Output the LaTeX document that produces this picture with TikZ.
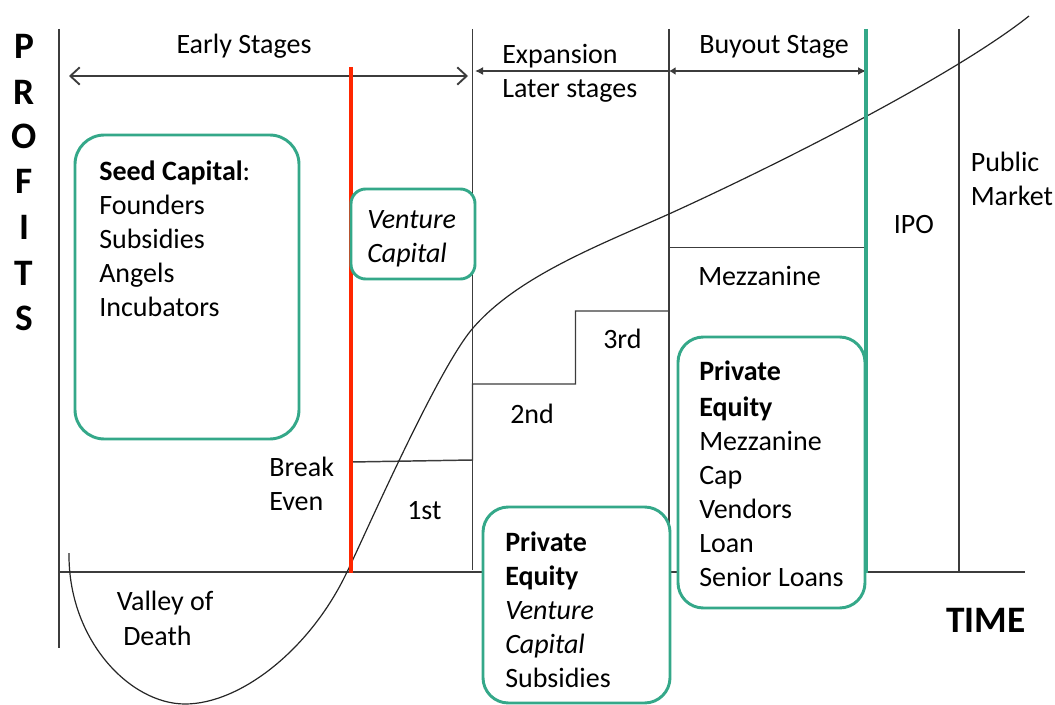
\documentclass[tikz,border=0pt]{standalone}
\usepackage{fontspec}
\setmainfont{Carlito}
\usetikzlibrary{arrows.meta}
\definecolor{pegreen}{RGB}{52,168,137}
\definecolor{bered}{RGB}{255,38,0}
\definecolor{ln}{RGB}{60,60,60}
\begin{document}
\begin{tikzpicture}[x=0.75pt,y=-0.75pt,
  txt/.style={inner sep=0pt, font=\fontsize{21}{25}\selectfont, anchor=base west},
  bigtxt/.style={inner sep=0pt, font=\fontsize{28}{30}\selectfont\bfseries, anchor=base},
  gbox/.style={draw=pegreen, line width=2.2pt, fill=white},
  gline/.style={draw=ln, line width=1.1pt},
  curve/.style={draw=black!85, line width=0.9pt},
  bigarrow/.style={draw=ln, line width=1.5pt, {Straight Barb[length=7pt,width=13pt,line width=1.4pt]}-{Straight Barb[length=7pt,width=13pt,line width=1.4pt]}},
  smallarrow/.style={draw=ln, line width=1.1pt}
]
\useasboundingbox (0,0) rectangle (1055,705);

% coordinates
\coordinate (axtop) at (59,29);
\coordinate (axbot) at (59,648);
\coordinate (hxl) at (59,572);
\coordinate (hxr) at (1025,572);
\coordinate (redt) at (350.5,67);
\coordinate (redb) at (350.5,573);
\coordinate (v1t) at (472.5,29);
\coordinate (v1b) at (472.5,570);
\coordinate (v2t) at (669,29);
\coordinate (v2b) at (669,570);
\coordinate (grt) at (866,29);
\coordinate (grb) at (866,573);
\coordinate (v3t) at (959,29);
\coordinate (v3b) at (959,572);

% axes and stage lines
\draw[gline] (axtop) -- (axbot);
\draw[gline] (hxl) -- (hxr);
\draw[gline] (v1t) -- (v1b);
\draw[gline] (v2t) -- (v2b);
\draw[gline] (v3t) -- (v3b);

% steps
\coordinate (s0) at (351,462);
\coordinate (s1) at (472.5,460);
\coordinate (s2) at (472.5,384);
\coordinate (s3) at (575.5,384);
\coordinate (s4) at (575.5,311);
\coordinate (s5) at (669,311);
\draw[gline] (s0) -- (s1) -- (s2) -- (s3) -- (s4) -- (s5);
\coordinate (mz0) at (669,247.5);
\coordinate (mz1) at (866,247.5);
\draw[gline] (mz0) -- (mz1);

% stage arrows
\coordinate (ea0) at (69,76);
\coordinate (ea1) at (468,76);
\draw[bigarrow] (ea0) -- (ea1);
\coordinate (xa0) at (475,71);
\coordinate (xa1) at (669,71);
\draw[smallarrow, {Latex[length=6pt,width=6pt]}-] (xa0) -- (xa1);
\coordinate (ba1) at (866,71);
\draw[smallarrow, {Latex[length=5pt,width=6pt]}-{Latex[length=6pt,width=6pt]}] (xa1) -- (ba1);

% curve
\coordinate (c0) at (69,553);
\coordinate (c1) at (185,704);
\coordinate (c2) at (347,572);
\coordinate (c3) at (473,328);
\coordinate (c4) at (669,214);
\coordinate (c5) at (1029,16);
\draw[curve] (c0) .. controls (68,640) and (130,704) .. (c1)
  .. controls (240,704) and (310,650) .. (c2)
  .. controls (365,535) and (438,368) .. (c3)
  .. controls (518,276) and (600,245) .. (c4)
  .. controls (779,164) and (955,75) .. (c5);

% red and green lines
\draw[draw=bered, line width=3pt] (redt) -- (redb);
\draw[draw=pegreen, line width=3pt] (grt) -- (grb);

% boxes
\draw[gbox, rounded corners=22pt] (75,135) rectangle (299,439);
\draw[gbox, rounded corners=11pt] (351,189) rectangle (475,279);
\draw[gbox, rounded corners=19pt] (483,507) rectangle (670,703);
\draw[gbox, rounded corners=19pt] (678,337) rectangle (865,608);

% PROFITS
\node[bigtxt] (p1) at (24,59) {P};
\node[bigtxt] (p2) at (24,104.5) {R};
\node[bigtxt] (p3) at (24,149) {O};
\node[bigtxt] (p4) at (24,194) {F};
\node[bigtxt] (p5) at (24,240) {I};
\node[bigtxt] (p6) at (24,286) {T};
\node[bigtxt] (p7) at (24,331) {S};
\node[bigtxt, anchor=base west] (time) at (946,632) {TIME};

% stage labels
\node[txt, anchor=base] (early) at (244,54) {Early Stages};
\node[txt] (exp1) at (502,64) {Expansion};
\node[txt] (exp2) at (502,98) {Later stages};
\node[txt] (buy) at (699,54) {Buyout Stage};

% seed box text
\node[txt] (sd1) at (99,181) {\textbf{Seed Capital}:};
\node[txt] (sd2) at (99,215) {Founders};
\node[txt] (sd3) at (99,249) {Subsidies};
\node[txt] (sd4) at (99,283) {Angels};
\node[txt] (sd5) at (99,317) {Incubators};

% venture capital
\node[txt] (vc1) at (367,229) {\itshape Venture};
\node[txt] (vc2) at (367,263) {\itshape Capital};

% break even
\node[txt] (be1) at (269,476) {Break};
\node[txt] (be2) at (269,510) {Even};

% rounds
\node[txt] (r1) at (407,519) {1st};
\node[txt] (r2) at (510,423) {2nd};
\node[txt] (r3) at (603,349) {3rd};
\node[txt] (mzt) at (698,286) {Mezzanine};
\node[txt] (ipo) at (893.5,234) {IPO};
\node[txt] (pm1) at (970.5,172) {Public};
\node[txt] (pm2) at (970.5,206) {Market};

% valley of death
\node[txt] (vd1) at (116.5,610) {Valley of};
\node[txt] (vd2) at (123,645) {Death};

% PE bottom box
\node[txt] (pa1) at (505,551) {\bfseries Private};
\node[txt] (pa2) at (505,585) {\bfseries Equity};
\node[txt] (pa3) at (505,619) {\itshape Venture};
\node[txt] (pa4) at (505,653) {\itshape Capital};
\node[txt] (pa5) at (505,687) {Subsidies};

% PE right box
\node[txt] (pb1) at (699,381) {\bfseries Private};
\node[txt] (pb2) at (699,416) {\bfseries Equity};
\node[txt] (pb3) at (699,450) {Mezzanine};
\node[txt] (pb4) at (699,484) {Cap};
\node[txt] (pb5) at (699,518) {Vendors};
\node[txt] (pb6) at (699,552) {Loan};
\node[txt] (pb7) at (699,586) {Senior Loans};
\end{tikzpicture}
\end{document}
